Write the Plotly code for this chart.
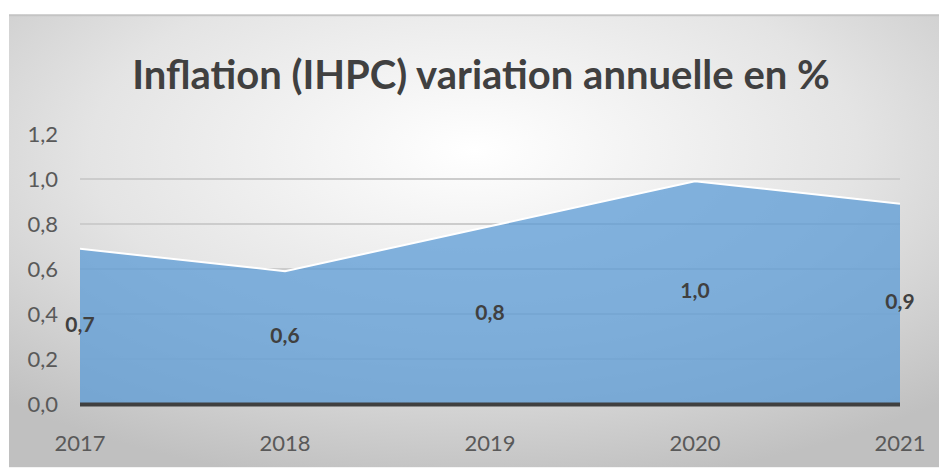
import base64
import plotly.graph_objects as go

years = [2017, 2018, 2019, 2020, 2021]
inflation = [0.69, 0.59, 0.79, 0.99, 0.89]
y_ticks = [0.0, 0.2, 0.4, 0.6, 0.8, 1.0, 1.2]
title_text = "Inflation (IHPC) variation annuelle en %"

W, H = 939, 468
L, R, T, B = 80, 39, 134, 63.5
pw, ph = W - L - R, H - T - B

# background gradient as an SVG image
svg = (
    '<svg xmlns="http://www.w3.org/2000/svg" width="930" height="454" viewBox="0 0 930 454" preserveAspectRatio="none">'
    '<defs><radialGradient id="g" cx="50%" cy="30%" r="75%" fx="50%" fy="30%">'
    '<stop offset="0" stop-color="#ffffff"/><stop offset="0.55" stop-color="#e4e4e4"/>'
    '<stop offset="1" stop-color="#c0c0c0"/></radialGradient></defs>'
    '<rect x="0" y="0" width="930" height="454" fill="url(#g)"/>'
    '<rect x="0" y="0" width="930" height="2" fill="#c4c4c4"/>'
    '</svg>'
)
src = "data:image/svg+xml;base64," + base64.b64encode(svg.encode()).decode()

box_l, box_t = 9, 14
x0 = (box_l - L) / pw
y0 = (H - B - box_t) / ph

fig = go.Figure()
fig.add_trace(go.Scatter(
    x=years, y=inflation, mode="lines", fill="tozeroy",
    fillcolor="rgba(91,155,213,0.75)",
    line=dict(color="white", width=2), hoverinfo="skip", showlegend=False,
))
fig.add_trace(go.Scatter(
    x=years, y=[v / 2 for v in inflation], mode="text",
    text=[f"{v:.1f}".replace(".", ",") for v in inflation],
    textfont=dict(family="Lato", size=21, color="#404040", weight="bold"),
    textposition="middle center", hoverinfo="skip", showlegend=False,
    cliponaxis=False,
))

# bottom axis line (drawn unclipped so its full thickness shows)
fig.add_shape(type="line", x0=0, x1=1, y0=-0.002, y1=-0.002,
              xref="paper", yref="paper", line=dict(color="#404040", width=4), layer="above")

fig.update_layout(
    width=W, height=H,
    margin=dict(l=L, r=R, t=T, b=B, pad=0),
    paper_bgcolor="white", plot_bgcolor="rgba(0,0,0,0)",
    separators=", ",
    title=dict(text=title_text, x=481 / W, xref="container", xanchor="center",
               y=1 - 75 / H, yref="container", yanchor="middle",
               font=dict(family="Lato", size=40, color="#404040", weight="bold")),
    images=[dict(source=src, xref="paper", yref="paper", x=x0, y=y0,
                 sizex=(W - box_l) / pw, sizey=(H - box_t) / ph,
                 xanchor="left", yanchor="top", sizing="stretch", layer="below")],
    xaxis=dict(range=[years[0], years[-1]], tickvals=years, ticktext=[str(y) for y in years],
               showgrid=False, zeroline=False, showline=False,
               ticks="", ticklabelstandoff=24,
               tickfont=dict(family="Lato", size=22, color="#595959")),
    yaxis=dict(range=[0, 1.2], tickvals=y_ticks, tickformat=".1f",
               showgrid=True, gridcolor="#cccccc", gridwidth=2,
               zeroline=False, showline=False, ticks="", ticklabelstandoff=21,
               tickfont=dict(family="Lato", size=22, color="#595959")),
)

fig.write_html(
    "out.html",
    config={"displayModeBar": False},
    post_script="document.body.style.margin='0';document.body.style.overflow='hidden';",
)
